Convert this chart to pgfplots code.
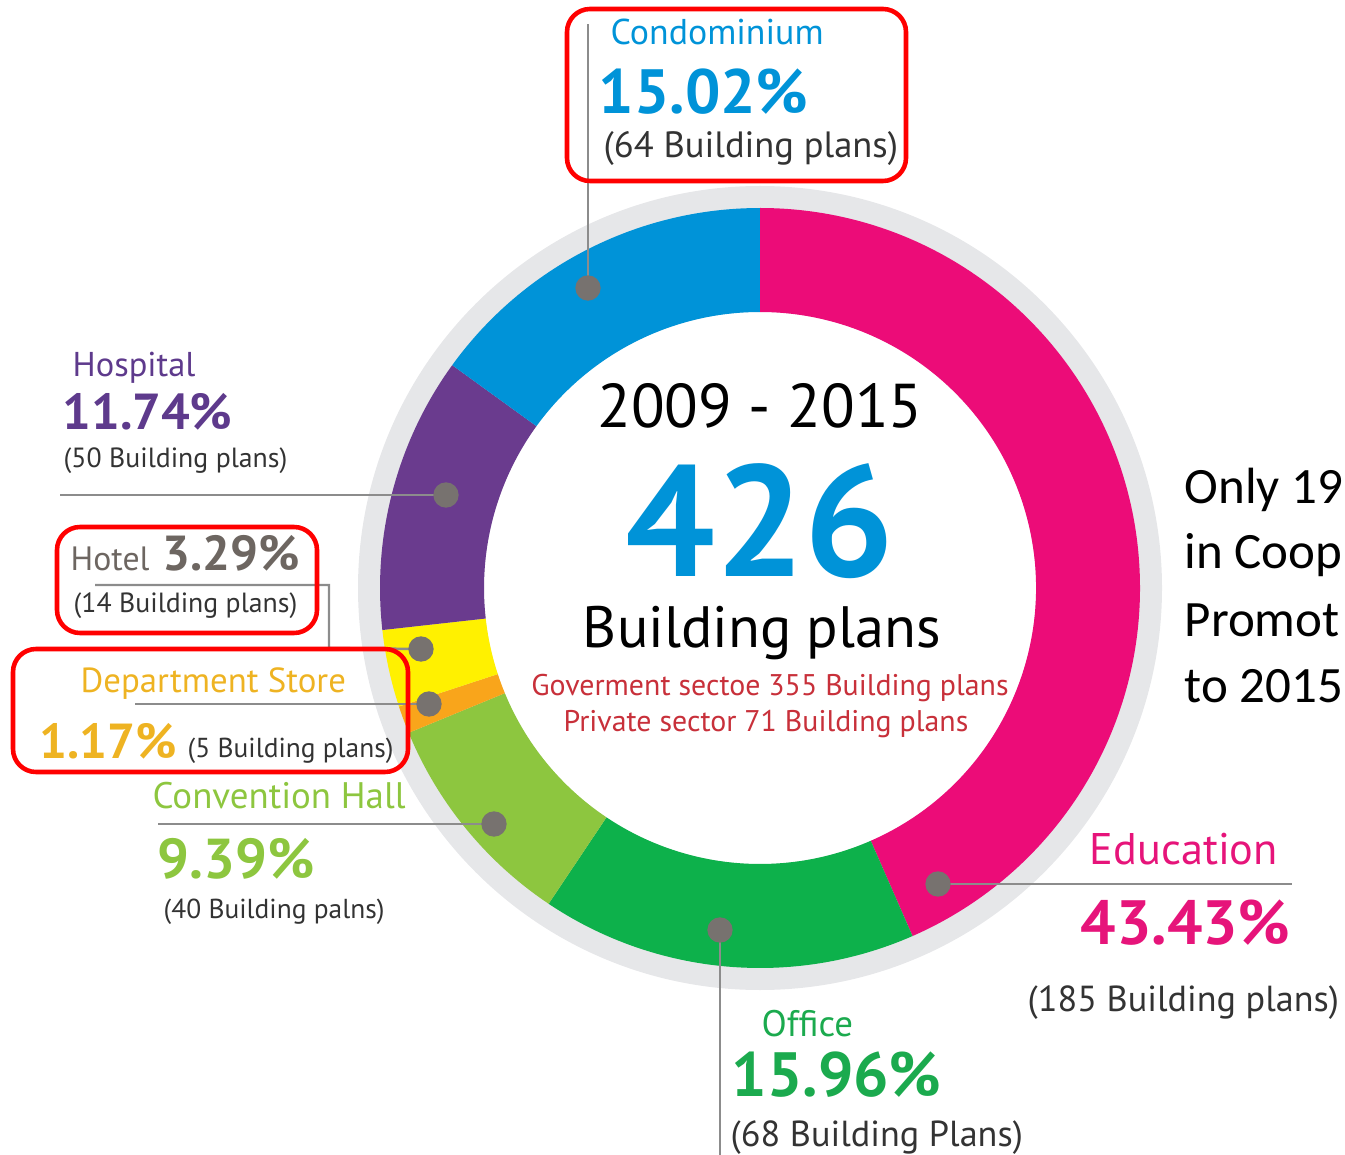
\documentclass[border=0pt]{standalone}
\usepackage{pgfplots}
\pgfplotsset{compat=1.18}
\usepackage{pgfplotstable}
\usepackage{fontspec}
\setmainfont{PT Sans}
\newfontfamily\calib{Carlito}
\definecolor{cEdu}{HTML}{EC0C78}
\definecolor{cOff}{HTML}{0DB14B}
\definecolor{cConv}{HTML}{8DC63F}
\definecolor{cDept}{HTML}{F9A51B}
\definecolor{cHotel}{HTML}{FFF100}
\definecolor{cHosp}{HTML}{6A3B8E}
\definecolor{cCondo}{HTML}{0093D8}
\definecolor{cRing}{HTML}{E6E7E9}
\definecolor{cDot}{HTML}{77726F}
\definecolor{cLine}{HTML}{8C8C8C}
\definecolor{tHosp}{HTML}{5E3A8C}
\definecolor{tHotel}{HTML}{6D6661}
\definecolor{tDept}{HTML}{EEB322}
\definecolor{tEdu}{HTML}{E6147A}
\definecolor{tOff}{HTML}{1BAA4E}
\definecolor{tRed}{HTML}{C8303A}
\definecolor{tGray}{HTML}{333333}
\newcommand\fs[1]{\fontsize{#1}{#1}\selectfont}

\pgfplotstableread{
name count color
Education 185 cEdu
Office 68 cOff
Convention 40 cConv
Department 5 cDept
Hotel 14 cHotel
Hospital 50 cHosp
Condominium 64 cCondo
}\slices

\begin{document}
\begin{tikzpicture}
\useasboundingbox (0,0) rectangle (13.45cm,11.55cm);
\begin{axis}[at={(0,0)}, anchor=south west, scale only axis,
  width=13.45cm, height=11.55cm, xmin=0, xmax=1345, ymin=0, ymax=1155,
  y dir=reverse, hide axis, clip=false]
\pgfplotsextra{
  \fill[cRing] (axis cs:760,588) circle[radius=4.02cm];
  \fill[white] (axis cs:760,588) circle[radius=2.76cm];
  \gdef\astart{90}
  \foreach \i in {0,...,6}{
    \pgfplotstablegetelem{\i}{count}\of{\slices}\let\cnt\pgfplotsretval
    \pgfplotstablegetelem{\i}{color}\of{\slices}\let\col\pgfplotsretval
    \pgfmathsetmacro\aend{\astart-\cnt/426*360}
    \fill[\col] (axis cs:760,588) ++(\astart:3.8cm)
      arc[start angle=\astart, end angle=\aend, radius=3.8cm]
      -- ++(\aend:-1.04cm)
      arc[start angle=\aend, end angle=\astart, radius=2.76cm] -- cycle;
    \xdef\astart{\aend}
  }
}
% leader lines
\addplot[cLine, line width=0.7pt] coordinates {(588,288) (588,24)};
\addplot[cLine, line width=0.7pt] coordinates {(60,495) (446,495)};
\addplot[cLine, line width=0.7pt] coordinates {(95,585) (329,585) (329,648) (421,649)};
\addplot[cLine, line width=0.7pt] coordinates {(135,704) (429,704)};
\addplot[cLine, line width=0.7pt] coordinates {(158,824) (494,824)};
\addplot[cLine, line width=0.7pt] coordinates {(720,930) (720,1155)};
\addplot[cLine, line width=0.7pt] coordinates {(938,884) (1292,884)};
% dots
\addplot[only marks, mark=*, mark size=3.4pt, mark options={fill=cDot, draw=cDot}]
  coordinates {(588,288) (446,495) (421,649) (429,704) (494,824) (720,930) (938,884)};

% labels
\node[anchor=base west, inner sep=0, text=cCondo, font=\fs{10.2}] at (axis cs:610,45) {Condominium};
\node[anchor=base west, inner sep=0, text=cCondo, font=\fs{17.8}\bfseries] at (axis cs:598,114) {15.02\%};
\node[anchor=base west, inner sep=0, text=tGray, font=\fs{10.4}] at (axis cs:603,158) {(64 Building plans)};

\node[anchor=base west, inner sep=0, text=tHosp, font=\fs{9.8}] at (axis cs:72,377) {Hospital};
\node[anchor=base west, inner sep=0, text=tHosp, font=\fs{14.4}\bfseries] at (axis cs:62,430) {11.74\%};
\node[anchor=base west, inner sep=0, text=tGray, font=\fs{7.9}] at (axis cs:63,468) {(50 Building plans)};

\node[anchor=base west, inner sep=0, text=tHotel, font=\fs{9.6}] at (axis cs:70,571) {Hotel};
\node[anchor=base west, inner sep=0, text=tHotel, font=\fs{14}\bfseries] at (axis cs:162,571) {3.29\%};
\node[anchor=base west, inner sep=0, text=tGray, font=\fs{7.9}] at (axis cs:73,612) {(14 Building plans)};

\node[anchor=base west, inner sep=0, text=tDept, font=\fs{9.9}] at (axis cs:80,692) {Department Store};
\node[anchor=base west, inner sep=0, text=tDept, font=\fs{14}\bfseries] at (axis cs:39,758) {1.17\%};
\node[anchor=base west, inner sep=0, text=tGray, font=\fs{7.8}] at (axis cs:187,757) {(5 Building plans)};

\node[anchor=base west, inner sep=0, text=cConv, font=\fs{10.5}] at (axis cs:152,808) {Convention Hall};
\node[anchor=base west, inner sep=0, text=cConv, font=\fs{16}\bfseries] at (axis cs:157,878) {9.39\%};
\node[anchor=base west, inner sep=0, text=tGray, font=\fs{7.8}] at (axis cs:163,918) {(40 Building palns)};

\node[anchor=base west, inner sep=0, text=tOff, font=\fs{10.5}] at (axis cs:761,1036) {Office};
\node[anchor=base west, inner sep=0, text=tOff, font=\fs{17.8}\bfseries] at (axis cs:731,1096) {15.96\%};
\node[anchor=base west, inner sep=0, text=tGray, font=\fs{10.3}] at (axis cs:730,1146) {(68 Building Plans)};

\node[anchor=base west, inner sep=0, text=tEdu, font=\fs{12.6}] at (axis cs:1089,864) {Education};
\node[anchor=base west, inner sep=0, text=tEdu, font=\fs{17.8}\bfseries] at (axis cs:1080,944) {43.43\%};
\node[anchor=base west, inner sep=0, text=tGray, font=\fs{10.3}] at (axis cs:1027,1011) {(185 Building plans)};

% centre
\node[anchor=base, inner sep=0, text=black, font=\fs{17.6}] at (axis cs:760,428) {2009 - 2015};
\node[anchor=base, inner sep=0, text=cCondo, font=\fs{45}\bfseries] at (axis cs:760,577) {426};
\node[anchor=base, inner sep=0, text=black, font=\fs{16.6}] at (axis cs:762,648) {Building plans};
\node[anchor=base, inner sep=0, text=tRed, font=\fs{8.5}] at (axis cs:770,695) {Goverment sectoe 355 Building plans};
\node[anchor=base, inner sep=0, text=tRed, font=\fs{8.5}] at (axis cs:766,731) {Private sector 71 Building plans};

% right side
\node[anchor=base west, inner sep=0, text=black, font=\calib\fs{14.5}] at (axis cs:1184,503) {Only 19};
\node[anchor=base west, inner sep=0, text=black, font=\calib\fs{14.5}] at (axis cs:1184,569) {in Coop};
\node[anchor=base west, inner sep=0, text=black, font=\calib\fs{14.5}] at (axis cs:1184,636) {Promot};
\node[anchor=base west, inner sep=0, text=black, font=\calib\fs{14.5}] at (axis cs:1184,702) {to 2015};

% red boxes
\draw[red, line width=1.3pt, rounded corners=0.23cm] (axis cs:567,9) rectangle (axis cs:906,181);
\draw[red, line width=1.3pt, rounded corners=0.23cm] (axis cs:57,527) rectangle (axis cs:317,633);
\draw[red, line width=1.3pt, rounded corners=0.23cm] (axis cs:13,649) rectangle (axis cs:408,772);
\end{axis}
\end{tikzpicture}
\end{document}
